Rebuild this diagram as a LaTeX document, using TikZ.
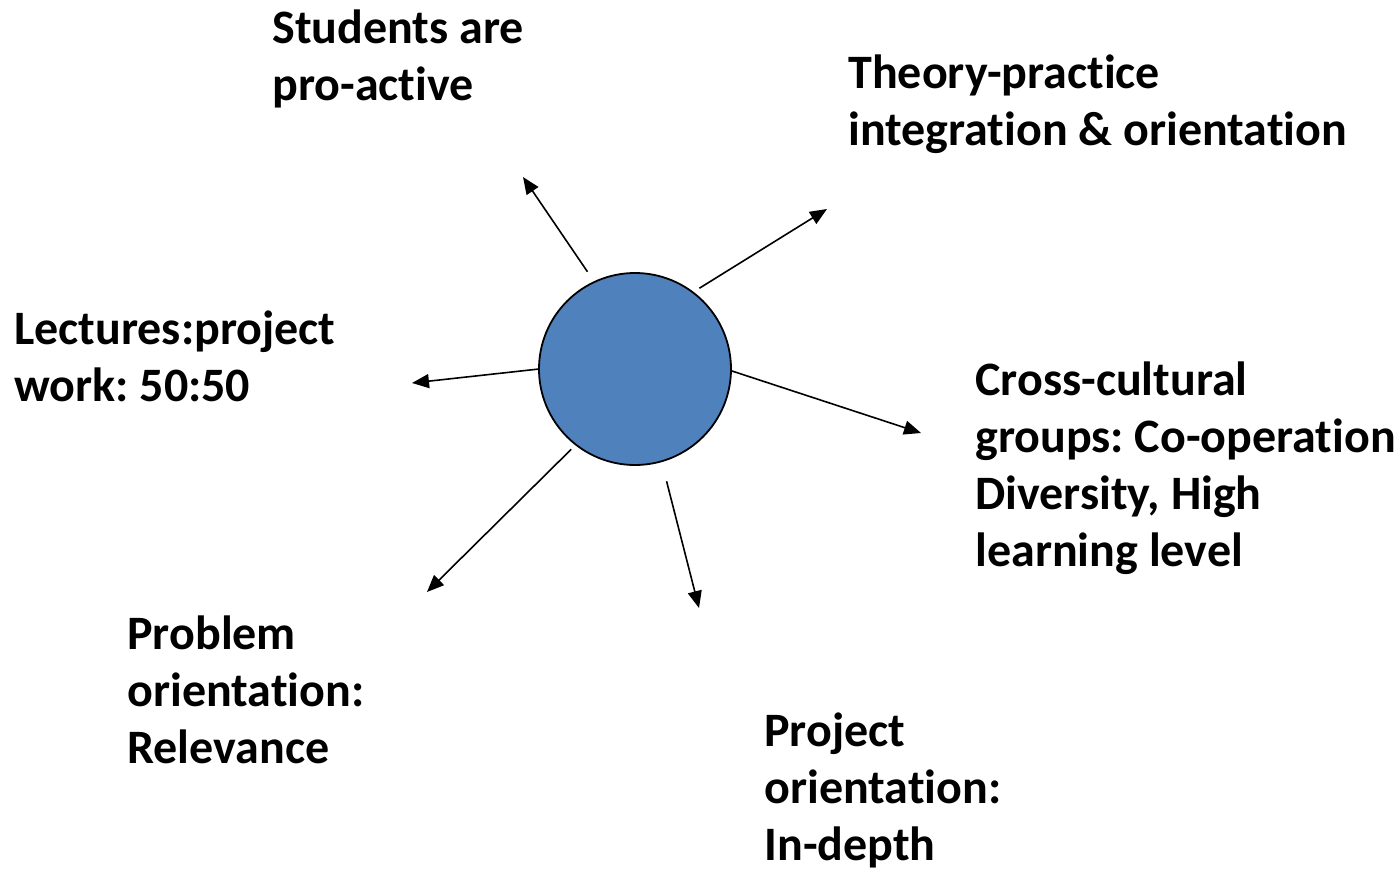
\documentclass[tikz,border=0pt]{standalone}
\usepackage{fontspec}
\setmainfont{Carlito}[Ligatures=CommonOff]
\usetikzlibrary{arrows.meta}
\definecolor{hubblue}{RGB}{79,129,189}
\frenchspacing
\tikzset{
    hub/.style={circle, draw, fill=hubblue, line width=0.9pt, minimum size=96pt, inner sep=0pt, outer sep=0pt},
    point/.style={align=left, anchor=base west, inner sep=0pt, font=\fontsize{24}{28.5}\selectfont\bfseries},
    >={Triangle[length=8.5pt, width=7pt]},
    every edge/.style={draw, line width=0.8pt}
}
\begin{document}
\begin{tikzpicture}[x=0.5pt, y=-0.5pt]
    \useasboundingbox (0,0) rectangle (1398,873);

    % labels sit on the baseline of their last line
    \node[hub]    (hub)       at (635,369) {};
    \node[point]  (proactive) at (272,100) {Students are\\pro-active};
    \node[point]  (theory)    at (848,145) {Theory-practice\\integration \& orientation};
    \node[point]  (lectures)  at (14,401)  {Lectures:project\\work: 50:50};
    \node[point]  (crosscult) at (975,566) {Cross-cultural\\groups: Co-operation\\Diversity, High\\learning level};
    \node[point]  (problem)   at (127,763) {Problem\\orientation:\\Relevance};
    \node[point]  (project)   at (764,860) {Project\\orientation:\\In-depth};

    % free ends of the arrows
    \coordinate (t1) at (523,177);
    \coordinate (t2) at (827,209);
    \coordinate (t3) at (412,383);
    \coordinate (t4) at (921,433);
    \coordinate (t5) at (427,592);
    \coordinate (t6) at (699,608);

    \path[->]   (hub.115)  edge[shorten <=6.2pt]  (t1)
                (hub.53)   edge[shorten <=3.9pt]  (t2)
                (hub.180)  edge                   (t3)
                (hub.-1)   edge                   (t4)
                (hub.-128) edge[shorten <=3.3pt]  (t5)
                (hub.-74)  edge[shorten <=10.3pt] (t6);
\end{tikzpicture}
\end{document}
